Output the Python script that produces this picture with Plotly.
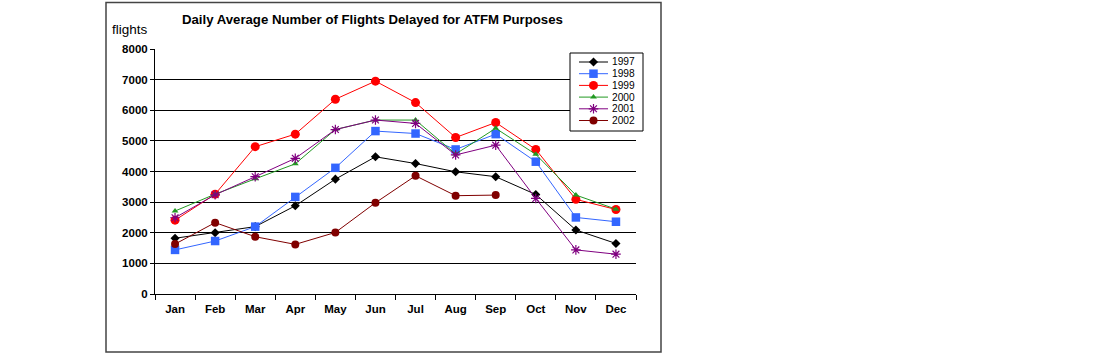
import plotly.graph_objects as go

months = ["Jan", "Feb", "Mar", "Apr", "May", "Jun", "Jul", "Aug", "Sep", "Oct", "Nov", "Dec"]

y1997 = [1820, 2000, 2200, 2880, 3750, 4480, 4260, 3990, 3830, 3250, 2090, 1650]
y1998 = [1440, 1730, 2200, 3170, 4120, 5320, 5240, 4720, 5220, 4320, 2500, 2360]
y1999 = [2410, 3260, 4810, 5220, 6360, 6950, 6250, 5110, 5600, 4720, 3090, 2760]
y2000 = [2710, 3260, 3760, 4250, 5370, 5680, 5680, 4570, 5410, 4560, 3230, 2770]
y2001 = [2490, 3240, 3830, 4430, 5370, 5680, 5570, 4540, 4860, 3120, 1440, 1300]
y2002 = [1630, 2330, 1870, 1620, 2010, 2980, 3860, 3210, 3230]

series_names = ["1997", "1998", "1999", "2000", "2001", "2002"]
series_values = [y1997, y1998, y1999, y2000, y2001, y2002]

styles = [
    dict(color="#000000", symbol="diamond", size=7, mline=0),
    dict(color="#3366FF", symbol="square", size=8.5, mline=0),
    dict(color="#FF0000", symbol="circle", size=9, mline=0),
    dict(color="#229922", symbol="triangle-up", size=6, mline=0),
    dict(color="#800080", symbol="asterisk-open", size=8, mline=1.2),
    dict(color="#800000", symbol="circle", size=8, mline=0),
]

FONT = "Arial, Liberation Sans"

fig = go.Figure()

for name, vals, st in zip(series_names, series_values, styles):
    marker = dict(color=st["color"], symbol=st["symbol"], size=st["size"])
    if st["mline"]:
        marker["line"] = dict(color=st["color"], width=st["mline"])
    fig.add_trace(go.Scatter(
        x=months[:len(vals)], y=vals, name=name, mode="lines+markers",
        line=dict(color=st["color"], width=1), marker=marker,
        cliponaxis=False, showlegend=False, xaxis="x", yaxis="y",
    ))

# compact legend drawn on its own small axis (one row per series)
for i, (name, st) in enumerate(zip(series_names, styles)):
    marker = dict(color=st["color"], symbol=st["symbol"], size=st["size"])
    if st["mline"]:
        marker["line"] = dict(color=st["color"], width=st["mline"])
    fig.add_trace(go.Scatter(
        x=[9, 38], y=[i, i], mode="lines", line=dict(color=st["color"], width=1),
        xaxis="x2", yaxis="y2", showlegend=False, hoverinfo="skip", cliponaxis=False,
    ))
    fig.add_trace(go.Scatter(
        x=[23.5], y=[i], mode="markers", marker=marker,
        xaxis="x2", yaxis="y2", showlegend=False, hoverinfo="skip", cliponaxis=False,
    ))
    fig.add_annotation(
        x=40.5, y=i, xref="x2", yref="y2", text=name, showarrow=False,
        xanchor="left", yanchor="middle", borderpad=0,
        font=dict(family=FONT, size=10.2, color="#000000"),
    )

fig.add_shape(type="rect", xref="x2 domain", yref="y2 domain", x0=0, x1=1, y0=0, y1=1,
              line=dict(color="#000000", width=1), fillcolor="rgba(0,0,0,0)")

PW = 510.0
PH = 245.0
# outer chart border
fig.add_shape(type="rect", xref="paper", yref="paper",
              x0=(106 - 155) / PW, x1=(661 - 155) / PW,
              y0=(294 - 352) / PH, y1=(294 - 2.5) / PH,
              line=dict(color="#444444", width=1.5), fillcolor="rgba(0,0,0,0)", layer="below")

fig.add_annotation(
    text="<b>Daily Average Number of Flights Delayed for ATFM Purposes</b>",
    xref="paper", yref="paper", x=(372 - 155) / PW, y=(294 - 20) / PH,
    showarrow=False, xanchor="center", yanchor="middle",
    font=dict(family=FONT, size=13.2, color="#000000"),
)
fig.add_annotation(
    text="flights", xref="paper", yref="paper", x=(110 - 155) / PW, y=(294 - 30) / PH,
    showarrow=False, xanchor="left", yanchor="middle",
    font=dict(family=FONT, size=13.5, color="#000000"),
)

fig.update_layout(
    width=1109, height=354,
    margin=dict(l=155, r=1109 - 665, t=49, b=60),
    paper_bgcolor="white", plot_bgcolor="white",
    font=dict(family=FONT, color="#000000"),
    xaxis=dict(
        domain=[0, 481 / PW], type="category", categoryorder="array", categoryarray=months,
        range=[-0.5, 11.5], tickson="boundaries", ticks="outside", ticklen=5,
        tickcolor="#000000", showline=True, linecolor="#000000", linewidth=1,
        showgrid=False, tickfont=dict(size=11.5, family=FONT, color="#000000"),
        tickprefix="<b>", ticksuffix="</b>",
        ticklabelstandoff=4, fixedrange=True,
    ),
    yaxis=dict(
        range=[0, 8000], dtick=1000, ticks="outside", ticklen=4, tickcolor="#000000",
        showline=True, linecolor="#000000", linewidth=1, showgrid=True,
        gridcolor="#000000", gridwidth=1, zeroline=False,
        tickprefix="<b>", ticksuffix="</b>",
        tickfont=dict(size=11.5, family=FONT, color="#000000"), tickformat="d", fixedrange=True,
    ),
    xaxis2=dict(
        domain=[(570 - 155) / PW, (643 - 155) / PW], range=[0, 73], anchor="y2",
        visible=False, fixedrange=True,
    ),
    yaxis2=dict(
        domain=[(294 - 131) / PH, (294 - 53) / PH], range=[5.897, -0.769], anchor="x2",
        visible=False, fixedrange=True,
    ),
)

fig.write_html("out.html")
